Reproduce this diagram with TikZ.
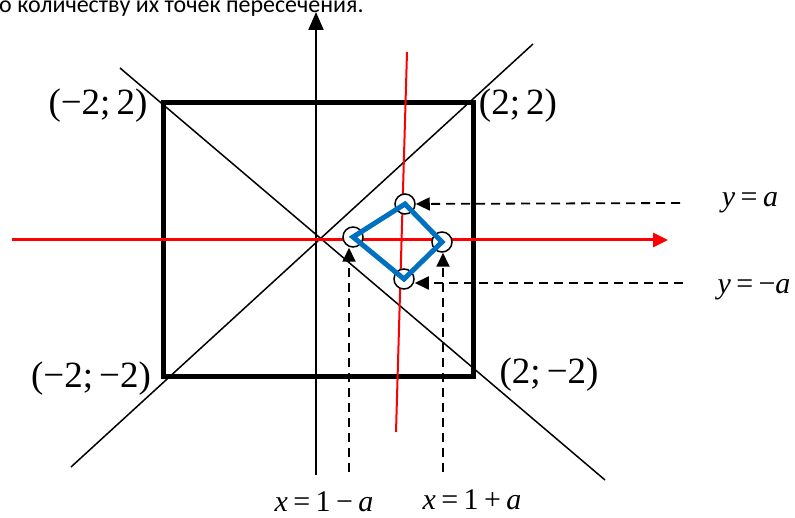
\documentclass[tikz,border=0pt]{standalone}
\usepackage{fontspec}
\setmainfont{Liberation Serif}
\newfontfamily\rufont{Carlito}
\usetikzlibrary{arrows.meta, positioning}
\definecolor{diamblue}{RGB}{0,112,192}
\colorlet{axisred}{red}
\newcommand{\eqsp}{\hspace{0.18em}}

\begin{document}
\begin{tikzpicture}[x=1pt, y=-1pt, >=Triangle,
    pt/.style={circle, draw=black, fill=white, line width=1.5pt, minimum size=20pt, inner sep=0pt},
    dasharr/.style={-{Triangle[length=14pt, width=13pt]}, dash pattern=on 9pt off 6pt, line width=1.8pt},
    cornerlbl/.style={font=\fontsize{37}{40}\selectfont, inner sep=0pt},
    eqlbl/.style={font=\fontsize{30}{33}\selectfont, inner sep=0pt}]
    \useasboundingbox (0,0) rectangle (795,518);

    \node[anchor=base west, inner sep=0pt, font=\rufont\fontsize{24}{27}\selectfont] (head) at (-1,13) {о количеству их точек пересечения.};

    \draw[line width=5pt] (163,103) rectangle (473,377);
    \draw[line width=1.5pt] (120,68) -- (605,480);
    \draw[line width=1.5pt] (71,467) -- (533,44);

    \coordinate (ybot) at (316,475);
    \coordinate (ytop) at (316,12);
    \draw[->, line width=2pt, >={Triangle[length=18pt, width=15pt]}] (ybot) -- (ytop);
    \coordinate (xleft) at (12,240);
    \coordinate (xright) at (668,240);
    \draw[->, axisred, line width=3pt, >={Triangle[length=15pt, width=14pt]}] (xleft) -- (xright);
    \draw[axisred, line width=2pt] (407,52) -- (396,432);

    \node[pt] (top) at (405,204) {};
    \node[pt] (left) at (353,237) {};
    \node[pt] (right) at (442,242) {};
    \node[pt] (bot) at (404,279) {};
    \draw[diamblue, line width=5pt, line join=miter] (left.center) -- (top.center) -- (right.center) -- (bot.center) -- cycle;

    \coordinate (ya) at (680,203);
    \coordinate (yma) at (683,283);
    \coordinate (xl) at (349,472);
    \coordinate (xr) at (443,472);
    \draw[dasharr] (ya) -- (top);
    \draw[dasharr] (yma) -- (yma -| bot.east);
    \draw[dasharr] (xl) -- (xl |- left.south);
    \draw[dasharr] (xr) -- (xr |- right.south);

    \node[cornerlbl] (tl) at (98,106) {(−2;\,2)};
    \node[cornerlbl] (tr) at (518,106) {(2;\,2)};
    \node[cornerlbl] (bl) at (91,379) {(−2;\,−2)};
    \node[cornerlbl] (br) at (549,375) {(2;\,−2)};

    \node[eqlbl, anchor=base] (lya) at (750,207) {\textit{y}\eqsp=\eqsp\textit{a}};
    \node[eqlbl, anchor=base] (lyma) at (754,294) {\textit{y}\eqsp=\eqsp−\textit{a}};
    \node[eqlbl, anchor=base] (lxl) at (324,511) {\textit{x}\eqsp=\eqsp1\eqsp−\eqsp\textit{a}};
    \node[eqlbl, anchor=base] (lxr) at (472,509) {\textit{x}\eqsp=\eqsp1\eqsp+\eqsp\textit{a}};
\end{tikzpicture}
\end{document}
